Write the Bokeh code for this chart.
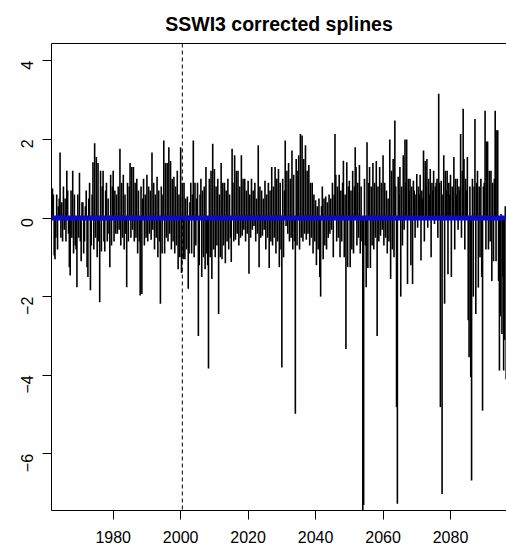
import math
from bokeh.plotting import figure
from bokeh.models import Range1d, ColumnDataSource, Span, FixedTicker, LinearAxis
from bokeh.embed import file_html
from bokeh.resources import INLINE

title_text = "SSWI3 corrected splines"
x_ticks = [1980, 2000, 2020, 2040, 2060, 2080]
y_ticks = [-6, -4, -2, 0, 2, 4]
reference_year = 2000.5

# quarterly SSWI3 values
step = 0.25
vals_1960s = [0.75,
    0.75, 0.6, -0.95, -1.05,
    -0.5, 0.6, -0.8, 0.3,
    0.5, 1.67, -0.5, 0.4,
    -0.6, 0.8, -0.3, 0.5,
    -0.6, 1.2, 0.7, -0.4,
    -1.25, -1.46, 0.7, -0.5,
    1.2, -0.9, 0.6, -0.7,
    -0.8, -1.76, 0.6, -0.5]
vals_1970s = [
    1.15, -0.6, -1.1, 0.4,
    0.4, -0.9, -0.6, 0.3,
    0.7, -1.25, -1.5, 0.5,
    0.9, -1.84, -0.7, 0.6,
    1.42, -0.8, 1.9, -0.5,
    1.55, -1.0, 1.4, -0.6,
    -2.14, 1.2, -0.85, 0.8,
    1.2, -0.6, -0.85, 0.7,
    0.9, -0.6, 0.5, -0.4,
    -1.25, 1.1, -0.7, 0.8]
vals_1980s = [
    1.2, -0.6, 0.7, -0.4,
    0.6, -0.4, 0.8, -0.3,
    1.76, -0.7, 0.9, -0.5,
    1.1, -0.8, 0.6, -0.4,
    -1.76, 0.9, -0.6, 0.8,
    1.4, -0.5, 1.3, -0.3,
    1.3, -0.6, 0.9, -0.5,
    1.0, -0.9, 0.7, -0.6,
    -1.97, 0.8, -1.93, 0.5,
    1.0, -0.7, 0.6, -0.5]
vals_1990s = [
    1.1, -0.6, 0.8, -0.4,
    0.7, -0.55, 1.67, -0.3,
    0.9, -0.8, 0.6, -0.5,
    1.05, -1.0, 0.7, -0.6,
    -2.18, 0.8, -0.9, 0.6,
    1.97, -0.9, 1.4, -0.5,
    1.4, -0.6, 1.8, -0.4,
    1.45, -0.8, 1.0, -0.6,
    1.05, -0.9, 0.8, -0.7,
    1.2, -1.3, 0.6, -1.0]
vals_2000s = [
    1.8, -1.4, 0.9, -1.05,
    0.9, -1.05, 0.5, -0.8,
    0.55, -1.8, -0.9, 0.4,
    0.9, -0.9, 0.6, 1.97,
    -1.0, 0.9, -0.7, 0.5,
    0.9, -3.0, -1.2, 0.6,
    1.0, -1.5, 0.7, -1.0,
    0.8, -1.3, 1.3, -0.9,
    -1.2, -3.83, 1.0, -1.0,
    1.2, -1.55, 1.89, -0.8]
vals_2010s = [
    1.25, -1.0, 0.8, -0.7,
    1.0, -2.44, 0.6, -1.0,
    1.4, -1.05, 0.9, -0.7,
    0.9, -1.15, 0.7, -0.6,
    1.0, -0.8, 0.6, -0.5,
    -1.12, 1.76, 0.9, -0.6,
    1.6, -0.55, 1.2, -0.4,
    1.2, -0.7, 0.8, -0.5,
    1.6, -0.45, 1.0, -0.3,
    1.0, -0.6, 0.7, -0.4]
vals_2020s = [
    0.95, -1.42, 0.6, -0.5,
    1.0, -0.3, 0.7, -0.2,
    0.9, -0.6, 0.5, -0.4,
    1.85, -1.25, 0.8, -0.5,
    0.7, -0.45, 0.5, -0.3,
    0.95, -0.8, 0.6, -0.5,
    0.9, -1.27, 0.7, -0.6,
    1.3, -0.7, 0.8, -0.5,
    1.3, -0.9, 1.0, -0.6,
    1.25, -1.25, 0.9, -0.8]
vals_2030s = [
    -3.8, 1.0, -1.0, 0.7,
    1.97, -0.2, 1.2, -0.4,
    1.4, -0.6, 1.0, -0.5,
    1.72, -0.8, 1.1, -0.6,
    -4.98, 1.5, -0.7, 1.2,
    1.6, -0.8, 2.14, -0.5,
    2.1, -0.6, 1.5, -0.4,
    1.85, -0.55, 1.2, -0.4,
    1.35, -0.7, 0.9, -0.5,
    0.9, -0.9, 0.6, -0.6]
vals_2040s = [
    0.45, -1.2, 0.3, -0.8,
    0.5, -1.5, -2.0, 0.3,
    0.8, -1.05, 0.5, -0.7,
    0.55, -0.8, 0.4, -0.5,
    0.6, -0.4, 0.5, -0.3,
    0.9, -1.0, 0.6, 2.14,
    1.1, -0.6, 0.8, -0.5,
    1.1, -1.0, 0.7, -0.6,
    0.9, 1.46, -1.0, 0.6,
    -3.33, 1.42, -1.25, 0.8]
vals_2050s = [
    0.95, -1.25, 0.7, -0.8,
    1.2, -0.9, 0.8, 1.8,
    1.3, -0.7, 0.9, -0.5,
    1.35, -0.9, 0.8, -0.6,
    -7.44, -7.3, 1.0, -0.7,
    -1.76, 1.93, -1.27, 0.9,
    1.3, -1.27, 0.8, -0.7,
    1.4, -0.8, 0.9, -0.5,
    1.45, -3.0, 0.8, -0.6,
    1.3, -0.45, 0.9, -0.3]
vals_2060s = [
    1.6, -0.7, 0.9, -0.5,
    0.7, -0.9, 0.5, -0.6,
    2.0, -1.55, 1.2, -0.8,
    1.5, -1.0, 2.48, 0.8,
    -4.81, -7.27, 1.05, 0.6,
    1.3, -2.0, 0.8, -0.7,
    1.6, -0.3, 2.0, 0.9,
    2.0, -1.68, 1.0, 0.7,
    1.0, -1.2, 0.8, -1.68,
    0.95, 0.7, -0.5, 0.6]
vals_2070s = [
    1.12, -0.25, 0.8, 0.6,
    1.1, -1.08, 0.7, 0.5,
    1.72, -0.6, 1.45, 0.8,
    1.5, -0.25, 1.0, 0.6,
    1.25, -1.0, 0.9, 0.7,
    1.2, -0.15, 0.8, 0.9,
    1.0, -0.5, 3.16, 0.9,
    -4.81, 0.95, -7.02, 0.6,
    1.6, -2.18, 1.2, 0.7,
    1.2, -1.43, 0.9, 0.6]
vals_2080s = [
    1.1, -1.5, 0.8, 0.7,
    1.55, -0.8, 1.0, 0.6,
    1.0, -0.3, 0.8, 0.7,
    2.14, -0.5, 1.2, 2.78,
    1.5, -0.8, 1.0, 0.7,
    1.55, -2.6, -3.54, 0.8,
    -4.05, -6.68, 1.0, -2.0,
    0.8, 2.52, -2.44, 0.9,
    1.2, -1.77, 0.8, -1.0,
    1.0, -1.5, -4.9, 0.8]
vals_2090s = [
    0.9, 2.73, -0.8, 1.95,
    1.95, -0.8, 1.2, -0.6,
    1.2, -1.6, 0.9, -1.1,
    1.0, 2.73, -1.1, 2.23,
    2.23, -1.6, -3.88, -2.5,
    0.1, -2.95, -1.5, -3.88,
    -3.1, 0.3, -4.1, -2.8,
    -3.0, 0.5, -2.5, 0.4,
    -2.0, 0.6, -1.5, 0.5,
    -1.0, 0.7, -1.2, 0.6]

decade_starts = [1961.75, 1970, 1980, 1990, 2000, 2010, 2020, 2030,
                 2040, 2050, 2060, 2070, 2080, 2090]
decade_values = [vals_1960s, vals_1970s, vals_1980s, vals_1990s, vals_2000s,
                 vals_2010s, vals_2020s, vals_2030s, vals_2040s, vals_2050s,
                 vals_2060s, vals_2070s, vals_2080s, vals_2090s]

ts, vs = [], []
for start, vals in zip(decade_starts, decade_values):
    for i, v in enumerate(vals):
        ts.append(start + i * step)
        vs.append(v)

src = ColumnDataSource(dict(t=ts, v=vs, z=[0.0] * len(ts)))

FONT = "Liberation Sans"

p = figure(width=506, height=549,
           x_range=Range1d(1961.71, 2096.6), y_range=Range1d(-7.44, 4.44),
           output_backend="svg", toolbar_location=None,
           min_border_left=51, min_border_right=0,
           min_border_top=43, min_border_bottom=39)

p.segment(x0="t", y0="z", x1="t", y1="v", source=src,
          line_color="black", line_width=1.6)

p.add_layout(Span(location=0, dimension="width", line_color="#0a0ac8", line_width=5))
p.add_layout(Span(location=reference_year, dimension="height", line_color="black",
                  line_dash="4 3", line_width=1))

p.xgrid.visible = False
p.ygrid.visible = False
p.outline_line_color = None
p.background_fill_color = "white"
p.border_fill_color = "white"

p.xaxis.ticker = FixedTicker(ticks=x_ticks)
p.yaxis.ticker = FixedTicker(ticks=y_ticks)
for ax in (p.xaxis, p.yaxis):
    ax.axis_line_color = "black"
    ax.axis_line_width = 1
    ax.major_tick_in = 0
    ax.major_tick_out = 9
    ax.minor_tick_in = 0
    ax.minor_tick_out = 0
    ax.major_tick_line_color = "black"
    ax.major_label_text_font = FONT
    ax.major_label_text_font_size = "16px"
    ax.major_label_text_color = "black"
p.xaxis.major_label_standoff = 11
p.yaxis.major_label_standoff = 15
p.yaxis.major_label_orientation = math.pi / 2

top_axis = LinearAxis(ticker=FixedTicker(ticks=[]), axis_line_color="black",
                      major_tick_out=0, major_tick_in=0, minor_tick_out=0,
                      minor_tick_in=0, major_label_standoff=0,
                      major_label_text_font_size="0px")
p.add_layout(top_axis, "above")

p.title.text = title_text
p.title.align = "center"
p.title.text_font = FONT
p.title.text_font_size = "19.5px"
p.title.text_font_style = "bold"
p.title.text_color = "black"
p.title.offset = 5
p.title.standoff = 17

open("out.html", "w").write(file_html(p, INLINE))
